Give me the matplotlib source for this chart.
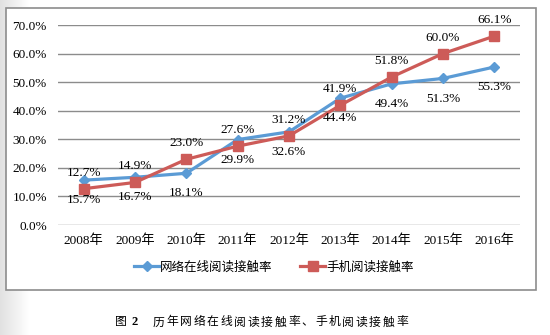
import numpy as np
import matplotlib
matplotlib.use("Agg")
import matplotlib.pyplot as plt
from matplotlib.patches import Rectangle

plt.rcParams['font.family'] = ['Liberation Serif', 'Noto Sans CJK SC', 'DejaVu Sans']

years = ['2008年', '2009年', '2010年', '2011年', '2012年', '2013年', '2014年', '2015年', '2016年']
online = [15.7, 16.7, 18.1, 29.9, 32.6, 44.4, 49.4, 51.3, 55.3]
mobile = [12.7, 14.9, 23.0, 27.6, 31.2, 41.9, 51.8, 60.0, 66.1]
online_name = '网络在线阅读接触率'
mobile_name = '手机阅读接触率'
yticks = [0, 10, 20, 30, 40, 50, 60, 70]
caption_text = '历年网络在线阅读接触率、手机阅读接触率'

blue = '#5B9BD5'
red = '#CD5B58'

fig = plt.figure(figsize=(5.5, 3.35), dpi=100)
W, H = 550, 335

# grey shading at the left edge of the page
bg = fig.add_axes([0, 0, 30 / W, 1], zorder=-5)
grad = np.linspace(0.88, 1.0, 64)[None, :]
bg.imshow(grad, cmap='gray', vmin=0, vmax=1, aspect='auto', extent=[0, 1, 0, 1])
bg.axis('off')

# chart frame
fig.patches.append(Rectangle((6 / W, 1 - 290 / H), 530 / W, 282 / H,
                             transform=fig.transFigure, fill=True,
                             facecolor='white', edgecolor='#8c8c8c', lw=1.2, zorder=-1))

ax = fig.add_axes([58 / W, 1 - 225 / H, 462 / W, 200 / H])
ax.set_facecolor('none')
x = np.arange(len(years))

ax.plot(x, online, color=blue, lw=2.3, marker='D', ms=5.5, label=online_name, zorder=3)
ax.plot(x, mobile, color=red, lw=2.3, marker='s', ms=7, label=mobile_name, zorder=3)

for xi, v in zip(x, mobile):
    ax.annotate(f'{v:.1f}%', (xi, v), xytext=(0, 11.5), textcoords='offset points',
                ha='center', va='center', fontsize=9.5)
for xi, v in zip(x, online):
    ax.annotate(f'{v:.1f}%', (xi, v), xytext=(0, -14.5), textcoords='offset points',
                ha='center', va='center', fontsize=9.5)

ax.set_xlim(-0.5, len(years) - 0.5)
ax.set_ylim(0, 70)
ax.set_yticks(yticks)
ax.set_yticklabels([f'{t:.1f}%' for t in yticks], fontsize=9.5)
ax.set_xticks(x)
ax.set_xticklabels(years, fontsize=9.5)
ax.tick_params(axis='both', length=0)
ax.tick_params(axis='y', pad=8)
ax.tick_params(axis='x', pad=7)
ax.grid(axis='y', color='#8c8c8c', lw=1)
ax.set_axisbelow(True)
for s in ax.spines.values():
    s.set_visible(False)

fig.legend(loc='center', bbox_to_anchor=(274 / W, 1 - 267 / H), ncol=2, frameon=False,
           handlelength=2.0, handletextpad=0.1, columnspacing=2.2,
           prop={'family': ['Noto Sans CJK SC'], 'size': 9})

# caption, characters spread out
cy = 1 - 322 / H
fig.text(115 / W, cy, '图', family=['Noto Sans CJK SC'], fontsize=8.5, va='center')
fig.text(131 / W, cy, '2', family=['Liberation Serif'], fontsize=9, weight='bold', va='center')
for i, ch in enumerate(caption_text):
    fig.text((153 + i * 13.5) / W, cy, ch, family=['Noto Sans CJK SC'], fontsize=8.5, va='center')

fig.savefig('out.png', dpi=100)
